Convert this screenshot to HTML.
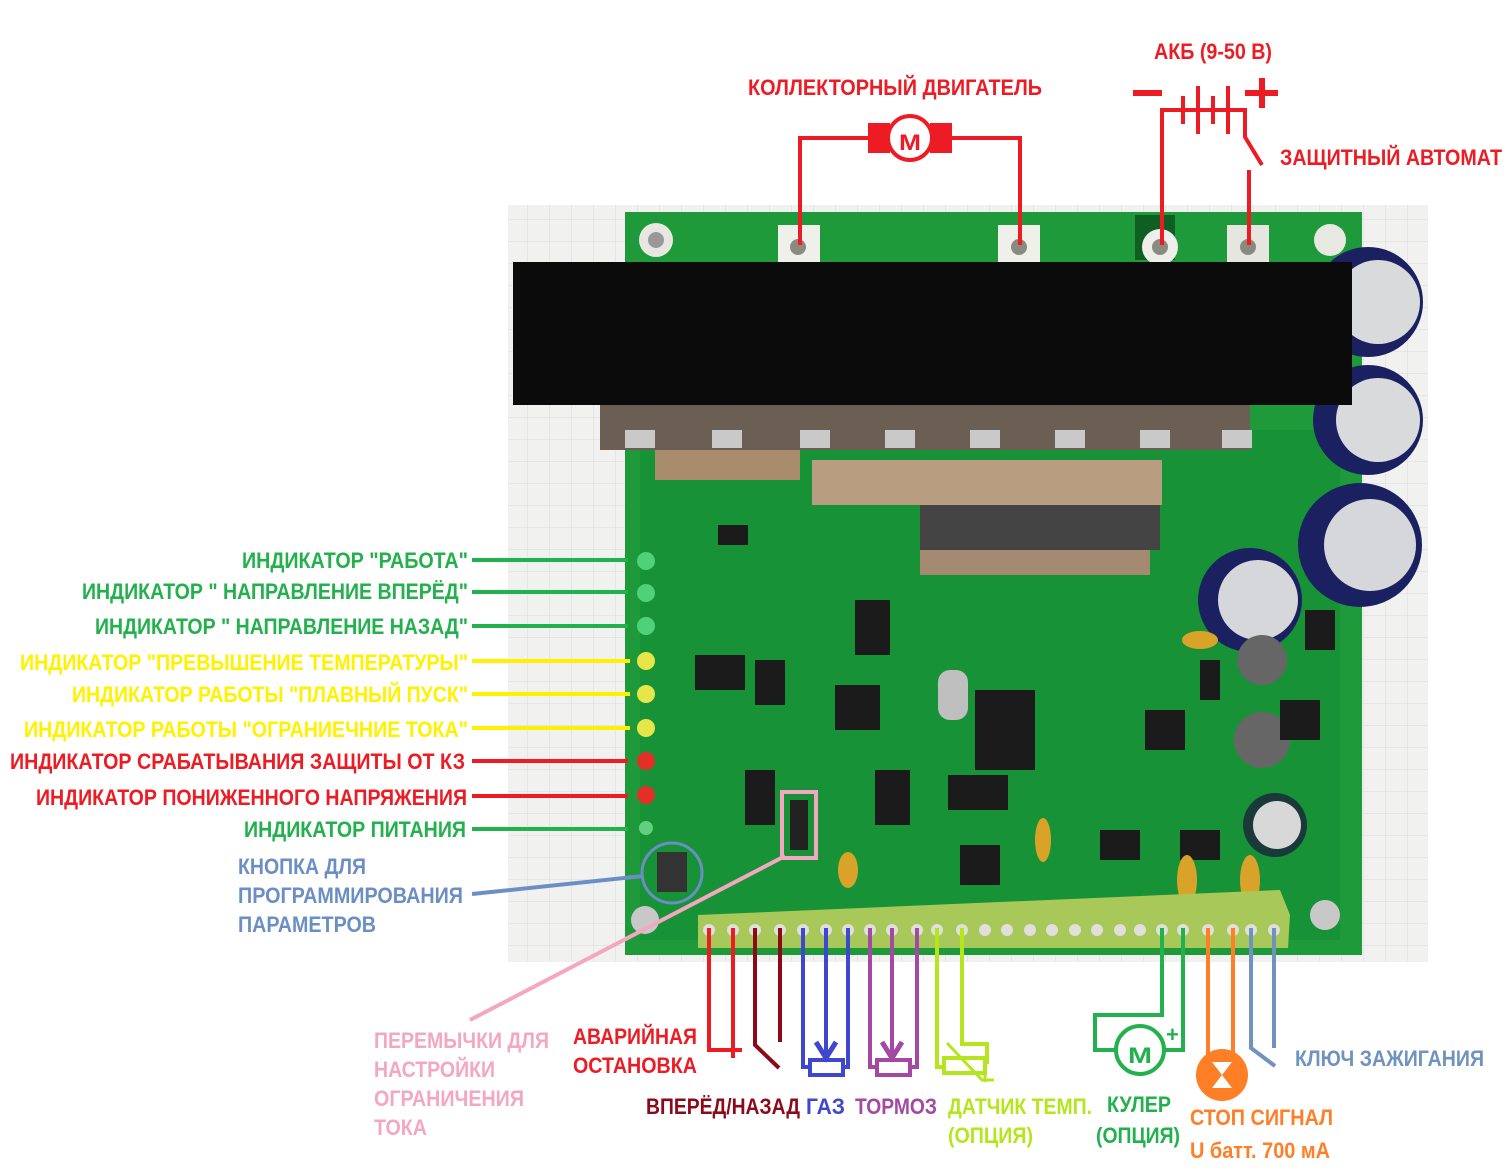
<!DOCTYPE html>
<html><head><meta charset="utf-8"><style>
html,body{margin:0;padding:0;background:#fff;}
svg{display:block}
text{font-family:"Liberation Sans",sans-serif;font-weight:bold;font-size:22px;}
</style></head><body>
<svg width="1509" height="1175" viewBox="0 0 1509 1175" xmlns="http://www.w3.org/2000/svg">
<defs>
<pattern id="grid" width="22" height="22" patternUnits="userSpaceOnUse"><rect width="22" height="22" fill="#f1f1ef"/><path d="M22 0V22H0" fill="none" stroke="#dcdcdc" stroke-width="1"/></pattern>
</defs>
<rect x="508" y="205" width="920" height="757" fill="url(#grid)"/>
<rect x="625" y="212" width="737" height="743" fill="#1f9a3a"/>
<rect x="640" y="430" width="700" height="510" fill="#179236"/>
<rect x="778" y="225" width="42" height="38" fill="#f0f0ea"/><circle cx="798" cy="247" r="8" fill="#8a8a80"/>
<rect x="998" y="225" width="42" height="38" fill="#f0f0ea"/><circle cx="1019" cy="247" r="8" fill="#8a8a80"/>
<rect x="1135" y="215" width="40" height="45" fill="#0f5e22"/>
<circle cx="1160" cy="247" r="18" fill="#eeeeea"/><circle cx="1160" cy="247" r="8" fill="#8a8a80"/>
<rect x="1227" y="225" width="42" height="38" fill="#e4e6df"/><circle cx="1248" cy="247" r="8" fill="#8a8a80"/>
<circle cx="656" cy="240" r="17" fill="#e8e8e2"/><circle cx="656" cy="240" r="8" fill="#999"/>
<circle cx="1330" cy="240" r="16" fill="#e8e8e2"/>
<circle cx="1368" cy="302" r="55" fill="#1a2060"/><circle cx="1378" cy="302" r="42" fill="#d9dadc"/>
<circle cx="1368" cy="420" r="55" fill="#1a2060"/><circle cx="1378" cy="420" r="42" fill="#d9dadc"/>
<circle cx="1360" cy="545" r="62" fill="#1a2060"/><circle cx="1370" cy="545" r="46" fill="#d6d7da"/>
<circle cx="1250" cy="600" r="52" fill="#1a2060"/><circle cx="1258" cy="600" r="40" fill="#d6d7da"/>
<circle cx="1275" cy="825" r="32" fill="#1a3a3a"/><circle cx="1277" cy="825" r="24" fill="#d8d8d8"/>
<circle cx="1262" cy="660" r="25" fill="#666"/><circle cx="1262" cy="740" r="28" fill="#666"/>
<rect x="513" y="262" width="839" height="143" fill="#0c0b0b"/>
<rect x="600" y="405" width="650" height="45" fill="#6b5e52"/>
<g fill="#c9c9c9"><rect x="625" y="430" width="30" height="18"/><rect x="712" y="430" width="30" height="18"/><rect x="800" y="430" width="30" height="18"/><rect x="885" y="430" width="30" height="18"/><rect x="970" y="430" width="30" height="18"/><rect x="1055" y="430" width="30" height="18"/><rect x="1140" y="430" width="30" height="18"/><rect x="1222" y="430" width="30" height="18"/></g>
<rect x="655" y="450" width="145" height="30" fill="#a98c6c"/>
<rect x="812" y="460" width="350" height="45" fill="#b89d80"/>
<rect x="920" y="505" width="240" height="45" fill="#444"/>
<rect x="920" y="550" width="230" height="25" fill="#a48a70"/>
<g fill="#1b1b1b">
<rect x="695" y="655" width="50" height="35"/><rect x="755" y="660" width="30" height="45"/>
<rect x="835" y="685" width="45" height="45"/><rect x="855" y="600" width="35" height="55"/>
<rect x="975" y="690" width="60" height="80"/><rect x="948" y="775" width="60" height="35"/>
<rect x="875" y="770" width="35" height="55"/><rect x="745" y="770" width="30" height="55"/>
<rect x="1145" y="710" width="40" height="40"/><rect x="1280" y="700" width="40" height="40"/>
<rect x="1305" y="610" width="30" height="40"/><rect x="1200" y="660" width="20" height="40"/>
<rect x="1100" y="830" width="40" height="30"/><rect x="1180" y="830" width="40" height="30"/>
<rect x="960" y="845" width="40" height="40"/><rect x="718" y="525" width="30" height="20"/>
</g>
<rect x="938" y="670" width="30" height="50" rx="12" fill="#bfbfbf"/>
<g><circle cx="646" cy="561" r="9" fill="#4fd07a"/><circle cx="646" cy="593" r="9" fill="#4fd07a"/><circle cx="646" cy="626" r="9" fill="#4fd07a"/>
<circle cx="646" cy="661" r="9" fill="#e6e64a"/><circle cx="646" cy="694" r="9" fill="#e6e64a"/><circle cx="646" cy="728" r="9" fill="#e6e64a"/>
<circle cx="646" cy="761" r="9" fill="#e23028"/><circle cx="646" cy="795" r="9" fill="#e23028"/><circle cx="646" cy="828" r="7" fill="#5fd07f"/></g>
<rect x="657" y="852" width="30" height="40" fill="#333"/>
<circle cx="672" cy="873" r="30" fill="none" stroke="#6b8fc4" stroke-width="3"/>
<g fill="#d9a32a"><ellipse cx="848" cy="870" rx="10" ry="18"/><ellipse cx="1043" cy="840" rx="8" ry="22"/><ellipse cx="1187" cy="880" rx="10" ry="25"/><ellipse cx="1250" cy="880" rx="10" ry="25"/><ellipse cx="1200" cy="640" rx="18" ry="9"/></g>
<circle cx="1325" cy="915" r="15" fill="#c8c8c8"/><circle cx="645" cy="920" r="14" fill="#c8c8c8"/>
<path d="M698 915 L1280 890 L1290 915 L1288 948 L698 948 Z" fill="#a8c85a"/>
<g fill="#e0e0da"><circle cx="709" cy="930" r="6"/><circle cx="733" cy="930" r="6"/><circle cx="755" cy="930" r="6"/><circle cx="780" cy="930" r="6"/><circle cx="803" cy="930" r="6"/><circle cx="826" cy="930" r="6"/><circle cx="848" cy="930" r="6"/><circle cx="870" cy="930" r="6"/><circle cx="892" cy="930" r="6"/><circle cx="917" cy="930" r="6"/><circle cx="937" cy="930" r="6"/><circle cx="962" cy="930" r="6"/><circle cx="985" cy="930" r="6"/><circle cx="1007" cy="930" r="6"/><circle cx="1030" cy="930" r="6"/><circle cx="1052" cy="930" r="6"/><circle cx="1075" cy="930" r="6"/><circle cx="1097" cy="930" r="6"/><circle cx="1120" cy="930" r="6"/><circle cx="1140" cy="930" r="6"/><circle cx="1162" cy="930" r="6"/><circle cx="1183" cy="930" r="6"/><circle cx="1208" cy="930" r="6"/><circle cx="1233" cy="930" r="6"/><circle cx="1251" cy="930" r="6"/><circle cx="1274" cy="930" r="6"/></g>
<rect x="782" y="792" width="34" height="66" fill="none" stroke="#f4a7c0" stroke-width="4"/>
<g fill="#222"><rect x="790" y="800" width="18" height="50"/></g>

<g stroke="#ed1c24" stroke-width="4" fill="none">
<path d="M800 245 V138 H872"/><path d="M948 138 H1020 V245"/>
<path d="M1162 245 V110 H1182"/>
<path d="M1183 96 V124 M1198 86 V134 M1213 96 V124 M1228 86 V134"/>
<path d="M1183 110 H1230 M1230 110 H1245 V137 L1262 165"/>
<path d="M1249 170 V245"/>
<path d="M1133 93 H1162" stroke-width="6"/><path d="M1245 93 H1278 M1262 78 V108" stroke-width="6"/>
</g>
<rect x="868" y="123" width="22" height="30" fill="#ed1c24"/><rect x="930" y="123" width="22" height="30" fill="#ed1c24"/>
<circle cx="910" cy="138" r="22" fill="#fff" stroke="#ed1c24" stroke-width="4"/>
<text x="910" y="150" font-size="30" fill="#ed1c24" text-anchor="middle" textLength="22" lengthAdjust="spacingAndGlyphs">M</text>
<text x="748" y="95" fill="#ed1c24" textLength="294" lengthAdjust="spacingAndGlyphs">КОЛЛЕКТОРНЫЙ ДВИГАТЕЛЬ</text>
<text x="1154" y="59" fill="#ed1c24" textLength="118" lengthAdjust="spacingAndGlyphs">АКБ (9-50 В)</text>
<text x="1280" y="165" fill="#ed1c24" textLength="222" lengthAdjust="spacingAndGlyphs">ЗАЩИТНЫЙ АВТОМАТ</text>

<g stroke-width="4">
<line x1="472" y1="560" x2="628" y2="560" stroke="#22b14c"/>
<line x1="472" y1="592" x2="628" y2="592" stroke="#22b14c"/>
<line x1="472" y1="626" x2="628" y2="626" stroke="#22b14c"/>
<line x1="472" y1="661" x2="630" y2="661" stroke="#fff200"/>
<line x1="472" y1="694" x2="630" y2="694" stroke="#fff200"/>
<line x1="472" y1="728" x2="630" y2="728" stroke="#fff200"/>
<line x1="472" y1="761" x2="628" y2="761" stroke="#ed1c24"/>
<line x1="472" y1="796" x2="628" y2="796" stroke="#ed1c24"/>
<line x1="472" y1="829" x2="628" y2="829" stroke="#22b14c"/>
<line x1="472" y1="894" x2="643" y2="876" stroke="#6b8fc4"/>
<line x1="470" y1="1020" x2="785" y2="856" stroke="#f4a7c0"/>
</g>
<g lengthAdjust="spacingAndGlyphs">
<text x="242" y="568" fill="#22b14c" textLength="226" lengthAdjust="spacingAndGlyphs">ИНДИКАТОР "РАБОТА"</text>
<text x="82" y="599" fill="#22b14c" textLength="386" lengthAdjust="spacingAndGlyphs">ИНДИКАТОР " НАПРАВЛЕНИЕ ВПЕРЁД"</text>
<text x="95" y="634" fill="#22b14c" textLength="373" lengthAdjust="spacingAndGlyphs">ИНДИКАТОР " НАПРАВЛЕНИЕ НАЗАД"</text>
<text x="20" y="670" fill="#fff200" textLength="448" lengthAdjust="spacingAndGlyphs">ИНДИКАТОР "ПРЕВЫШЕНИЕ ТЕМПЕРАТУРЫ"</text>
<text x="72" y="702" fill="#fff200" textLength="396" lengthAdjust="spacingAndGlyphs">ИНДИКАТОР РАБОТЫ "ПЛАВНЫЙ ПУСК"</text>
<text x="24" y="737" fill="#fff200" textLength="444" lengthAdjust="spacingAndGlyphs">ИНДИКАТОР РАБОТЫ "ОГРАНИЕЧНИЕ ТОКА"</text>
<text x="10" y="769" fill="#ed1c24" textLength="455" lengthAdjust="spacingAndGlyphs">ИНДИКАТОР СРАБАТЫВАНИЯ ЗАЩИТЫ ОТ КЗ</text>
<text x="36" y="805" fill="#ed1c24" textLength="431" lengthAdjust="spacingAndGlyphs">ИНДИКАТОР ПОНИЖЕННОГО НАПРЯЖЕНИЯ</text>
<text x="244" y="837" fill="#22b14c" textLength="222" lengthAdjust="spacingAndGlyphs">ИНДИКАТОР ПИТАНИЯ</text>
<text x="238" y="874" fill="#6b8fc4" textLength="128" lengthAdjust="spacingAndGlyphs">КНОПКА ДЛЯ</text>
<text x="238" y="903" fill="#6b8fc4" textLength="225" lengthAdjust="spacingAndGlyphs">ПРОГРАММИРОВАНИЯ</text>
<text x="238" y="932" fill="#6b8fc4" textLength="138" lengthAdjust="spacingAndGlyphs">ПАРАМЕТРОВ</text>
<text x="374" y="1048" fill="#f4a7c0" textLength="175" lengthAdjust="spacingAndGlyphs">ПЕРЕМЫЧКИ ДЛЯ</text>
<text x="374" y="1077" fill="#f4a7c0" textLength="121" lengthAdjust="spacingAndGlyphs">НАСТРОЙКИ</text>
<text x="374" y="1106" fill="#f4a7c0" textLength="150" lengthAdjust="spacingAndGlyphs">ОГРАНИЧЕНИЯ</text>
<text x="374" y="1135" fill="#f4a7c0" textLength="53" lengthAdjust="spacingAndGlyphs">ТОКА</text>
</g>

<g stroke-width="4" fill="none">
<path d="M709 928 V1050 H742 M733 928 V1058" stroke="#ed1c24"/>
<path d="M755 928 V1045 L779 1068 M780 928 V1042" stroke="#8b0a1a"/>
<path d="M803 928 V1067 H812 M848 928 V1067 H841 M826 928 V1058" stroke="#3f48cc"/>
<path d="M816 1042 L826 1058 L836 1042" stroke="#3f48cc" stroke-width="5"/>
<rect x="810" y="1060" width="33" height="15" stroke="#3f48cc"/>
<path d="M870 928 V1067 H879 M917 928 V1067 H908 M892 928 V1058" stroke="#a349a4"/>
<path d="M882 1042 L892 1058 L902 1042" stroke="#a349a4" stroke-width="5"/>
<rect x="877" y="1060" width="33" height="15" stroke="#a349a4"/>
<path d="M937 928 V1067 H944 M962 928 V1044 H987 V1064" stroke="#b5e61d"/>
<rect x="944" y="1058" width="41" height="15" stroke="#b5e61d"/>
<path d="M947 1043 L982 1080 H994 M985 1073 V1082" stroke="#b5e61d" stroke-width="3"/>
<path d="M1162 928 V1015 H1095 V1050 H1115 M1183 928 V1050 H1165" stroke="#22b14c"/>
<circle cx="1140" cy="1050" r="24" stroke="#22b14c"/>
<path d="M1208 928 V1060 M1233 928 V1060" stroke="#ff7f27"/>
<path d="M1251 928 V1048 L1275 1066 M1274 928 V1048" stroke="#7092be"/>
</g>
<text x="1140" y="1063" font-size="34" fill="#22b14c" text-anchor="middle" textLength="24" lengthAdjust="spacingAndGlyphs">M</text>
<text x="1166" y="1042" font-size="18" fill="#22b14c">+</text>
<circle cx="1222" cy="1075" r="26" fill="#ff7f27"/>
<path d="M1212 1062 L1232 1062 L1222 1075 Z M1212 1088 L1232 1088 L1222 1075 Z" fill="#fff"/>

<text x="573" y="1044" fill="#ed1c24" textLength="124" lengthAdjust="spacingAndGlyphs">АВАРИЙНАЯ</text>
<text x="573" y="1073" fill="#ed1c24" textLength="124" lengthAdjust="spacingAndGlyphs">ОСТАНОВКА</text>
<text x="646" y="1114" fill="#8b0a1a" textLength="154" lengthAdjust="spacingAndGlyphs">ВПЕРЁД/НАЗАД</text>
<text x="806" y="1114" fill="#3f48cc" textLength="39" lengthAdjust="spacingAndGlyphs">ГАЗ</text>
<text x="855" y="1114" fill="#a349a4" textLength="82" lengthAdjust="spacingAndGlyphs">ТОРМОЗ</text>
<text x="948" y="1114" fill="#b5e61d" textLength="144" lengthAdjust="spacingAndGlyphs">ДАТЧИК ТЕМП.</text>
<text x="948" y="1143" fill="#b5e61d" textLength="85" lengthAdjust="spacingAndGlyphs">(ОПЦИЯ)</text>
<text x="1107" y="1112" fill="#22b14c" textLength="64" lengthAdjust="spacingAndGlyphs">КУЛЕР</text>
<text x="1096" y="1143" fill="#22b14c" textLength="84" lengthAdjust="spacingAndGlyphs">(ОПЦИЯ)</text>
<text x="1190" y="1125" fill="#ff7f27" textLength="143" lengthAdjust="spacingAndGlyphs">СТОП СИГНАЛ</text>
<text x="1190" y="1158" fill="#ff7f27" textLength="140" lengthAdjust="spacingAndGlyphs">U батт. 700 мА</text>
<text x="1295" y="1066" fill="#7092be" textLength="189" lengthAdjust="spacingAndGlyphs">КЛЮЧ ЗАЖИГАНИЯ</text>
</svg>
</body></html>
